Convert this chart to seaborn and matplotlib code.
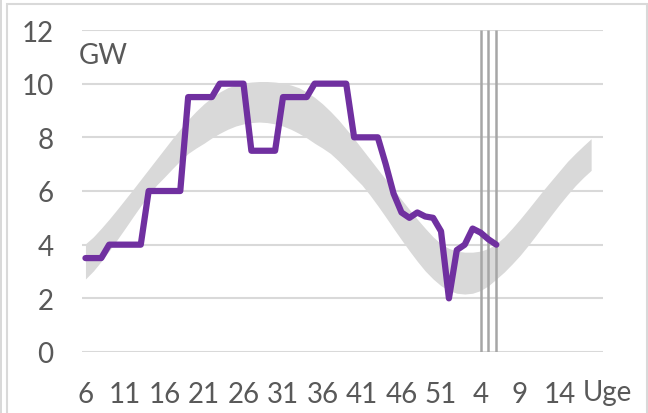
import matplotlib
matplotlib.use("Agg")
import matplotlib.pyplot as plt
import seaborn as sns
import pandas as pd
from matplotlib.patches import Rectangle

# uger: 6..52 og 1..18 året efter
weeks = list(range(6, 53)) + list(range(1, 19))

# forbrug/produktion i GW (lilla kurve), uge 6 til uge 6 året efter
gw_values = [3.5, 3.5, 3.5, 4, 4, 4, 4, 4, 6, 6, 6, 6, 6,
             9.5, 9.5, 9.5, 9.5, 10, 10, 10, 10, 7.5, 7.5, 7.5, 7.5,
             9.5, 9.5, 9.5, 9.5, 10, 10, 10, 10, 10, 8, 8, 8, 8,
             7.0, 5.9, 5.2, 5.0, 5.2, 5.05, 5.0, 4.5, 2.0, 3.8, 4.0,
             4.6, 4.45, 4.2, 4.0]

# grå bånd (normalområde)
band_upper = [4.03, 4.29, 4.61, 4.95, 5.31, 5.68, 6.05, 6.43, 6.81, 7.19,
              7.57, 7.95, 8.31, 8.66, 8.97, 9.25, 9.49, 9.69, 9.85, 9.95,
              10.02, 10.06, 10.08, 10.08, 10.06, 10.02, 9.95, 9.85, 9.69, 9.49,
              9.25, 8.97, 8.66, 8.31, 7.95, 7.57, 7.19, 6.81, 6.43, 6.05,
              5.68, 5.31, 4.95, 4.61, 4.29, 4.03, 3.86, 3.76, 3.72, 3.72,
              3.76, 3.86, 4.03, 4.29, 4.61, 4.95, 5.31, 5.68, 6.05, 6.40,
              6.75, 7.10, 7.40, 7.68, 7.95]
band_lower = [2.72, 3.02, 3.38, 3.77, 4.18, 4.60, 5.03, 5.45, 5.85, 6.22,
              6.52, 6.83, 7.13, 7.40, 7.60, 7.78, 7.98, 8.15, 8.30, 8.42,
              8.50, 8.55, 8.57, 8.55, 8.50, 8.42, 8.30, 8.15, 7.98, 7.78,
              7.60, 7.40, 7.13, 6.83, 6.52, 6.22, 5.85, 5.45, 5.03, 4.60,
              4.18, 3.77, 3.38, 3.02, 2.72, 2.47, 2.29, 2.19, 2.16, 2.19,
              2.29, 2.47, 2.72, 2.98, 3.28, 3.60, 3.96, 4.34, 4.73, 5.12,
              5.50, 5.86, 6.20, 6.50, 6.77]

marker_weeks = [4, 5, 6]  # lodrette linjer i det nye år

sns.set_theme(style="white")
plt.rcParams["font.family"] = ["Lato", "DejaVu Sans"]

txt = "#595959"
grid = "#d9d9d9"
fs = 20

idx = list(range(len(weeks)))
df_band = pd.DataFrame({"i": idx, "upper": band_upper, "lower": band_lower})
df_gw = pd.DataFrame({"i": idx[:len(gw_values)], "gw": gw_values})

fig = plt.figure(figsize=(6.48, 4.14), dpi=100)
ax = fig.add_axes([81.5 / 648, 61 / 414, (603 - 81.5) / 648, (353 - 31) / 414])

for v in range(0, 13, 2):
    ax.axhline(v, color=grid, lw=1.5, zorder=0)

ax.fill_between(df_band["i"], df_band["lower"], df_band["upper"],
                color="#d9d9d9", lw=0, zorder=1)

new_year = weeks.index(1, 40)
for w in marker_weeks:
    ax.vlines(new_year + weeks[new_year:].index(w), 0, 12,
              color="#a6a6a6", lw=1.8, zorder=2)

sns.lineplot(data=df_gw, x="i", y="gw", ax=ax, color="#7030a0", lw=4.5,
             solid_capstyle="round", solid_joinstyle="round", zorder=3)

ax.set_xlim(-0.5, 65.5)
ax.set_ylim(0, 12)
ax.set_xticks(idx[::5])
ax.set_xticklabels([str(weeks[i]) for i in idx[::5]])
ax.set_yticks(range(0, 13, 2))
ax.tick_params(axis="both", length=0, labelsize=fs, colors=txt)
ax.tick_params(axis="x", pad=21)
ax.tick_params(axis="y", pad=20)
ax.set_xlabel("")
ax.set_ylabel("")
for s in ax.spines.values():
    s.set_visible(False)

ax.text(-0.8, 11.05, "GW", ha="left", va="center", fontsize=fs, color=txt)
ax.text(66.1, -1.5, "Uge", ha="center", va="center", fontsize=fs,
        color=txt, clip_on=False)

# ramme om diagrammet
fig.patches.append(Rectangle((7 / 648, -0.05), 639.5 / 648, (409 / 414) + 0.05,
                             transform=fig.transFigure, fill=False,
                             edgecolor="#d9d9d9", lw=1.5))
fig.patches.append(Rectangle((0, -0.05), 1.5 / 648, 1.1,
                             transform=fig.transFigure, color="#d9d9d9", lw=0))

fig.savefig("out.png", dpi=100)
